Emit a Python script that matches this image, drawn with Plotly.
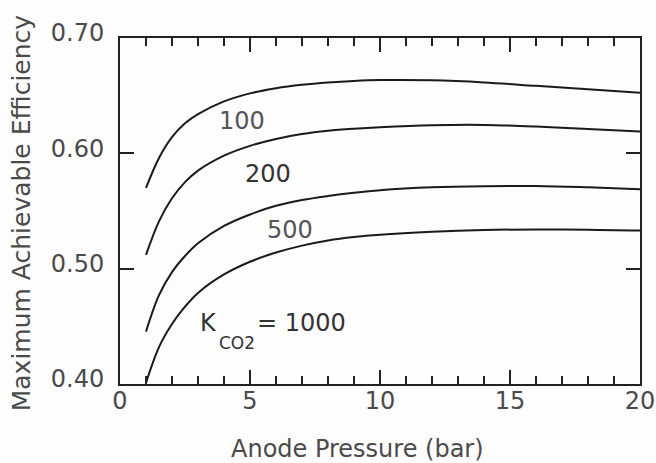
import plotly.graph_objects as go

pressure = [1, 1.5, 2, 2.5, 3, 4, 5, 6, 7, 8, 9, 10, 12, 14, 16, 18, 20]
eff_k100 = [0.570, 0.596, 0.614, 0.626, 0.634, 0.645, 0.652, 0.6565, 0.6595, 0.6615, 0.6628, 0.6635, 0.6633, 0.6615, 0.6585, 0.6555, 0.6525]
eff_k200 = [0.512, 0.541, 0.561, 0.575, 0.585, 0.598, 0.6065, 0.6125, 0.6167, 0.6195, 0.6213, 0.6226, 0.6243, 0.6246, 0.6232, 0.621, 0.619]
eff_k500 = [0.4454, 0.477, 0.497, 0.511, 0.522, 0.537, 0.547, 0.5545, 0.5595, 0.563, 0.5658, 0.568, 0.5705, 0.5715, 0.5717, 0.5705, 0.5688]
eff_k1000 = [0.401, 0.432, 0.452, 0.467, 0.479, 0.495, 0.506, 0.514, 0.520, 0.5245, 0.5275, 0.5295, 0.532, 0.5335, 0.534, 0.5338, 0.533]

x_ticks = [0, 5, 10, 15, 20]
y_ticks = [0.40, 0.50, 0.60, 0.70]

FONT = "DejaVu Sans"
TXT = "#4a4a4a"

fig = go.Figure()
for ys in [eff_k100, eff_k200, eff_k500, eff_k1000]:
    fig.add_trace(go.Scatter(x=pressure, y=ys, mode="lines",
                             line=dict(color="#1a1a1a", width=2, shape="spline", smoothing=1.0),
                             showlegend=False, hoverinfo="skip"))

ann = [
    dict(x=4.71, y=0.6283, text="100", font=dict(size=24, color="#555555", family=FONT)),
    dict(x=5.70, y=0.582, text="200", font=dict(size=24, color="#333333", family=FONT)),
    dict(x=6.53, y=0.5338, text="500", font=dict(size=24, color="#555555", family=FONT)),
]
for a in ann:
    fig.add_annotation(xref="x", yref="y", showarrow=False, xanchor="center", yanchor="middle", **a)

fig.add_annotation(xref="x", yref="y", x=3.0, y=0.4529, text="K", showarrow=False,
                   xanchor="left", yanchor="middle", font=dict(size=24, color="#333333", family=FONT))
fig.add_annotation(xref="x", yref="y", x=3.72, y=0.4356, text="CO2", showarrow=False,
                   xanchor="left", yanchor="middle", font=dict(size=17, color="#333333", family=FONT))
fig.add_annotation(xref="x", yref="y", x=5.2, y=0.4529, text="= 1000", showarrow=False,
                   xanchor="left", yanchor="middle", font=dict(size=24, color="#333333", family=FONT))

fig.add_annotation(xref="paper", yref="paper", x=0.456, y=-0.188, text="Anode Pressure (bar)",
                   showarrow=False, xanchor="center", yanchor="middle",
                   font=dict(size=24, color=TXT, family=FONT))
fig.add_annotation(xref="paper", yref="paper", x=-0.19, y=0.494, text="Maximum Achievable Efficiency",
                   showarrow=False, xanchor="center", yanchor="middle", textangle=-90,
                   font=dict(size=25, color=TXT, family=FONT))

fig.update_xaxes(range=[0, 20], tickvals=x_ticks, ticktext=[str(v) for v in x_ticks],
                 ticks="inside", ticklen=14, tickwidth=2, tickcolor="#222222",
                 minor=dict(dtick=1, ticks="inside", ticklen=8, tickwidth=2, tickcolor="#222222"),
                 showline=True, linecolor="#222222", linewidth=2, mirror="ticks",
                 showgrid=False, zeroline=False, automargin=False, ticklabelstandoff=-6,
                 tickfont=dict(size=24, color=TXT, family=FONT))
fig.update_yaxes(range=[0.40, 0.70], tickvals=y_ticks, ticktext=["%.2f" % v for v in y_ticks],
                 ticks="inside", ticklen=14, tickwidth=2, tickcolor="#222222",
                 showline=True, linecolor="#222222", linewidth=2, mirror="ticks",
                 showgrid=False, zeroline=False, automargin=False,
                 ticklabelshift=-5, ticklabelstandoff=9,
                 tickfont=dict(size=24, color=TXT, family=FONT))

fig.update_layout(width=656, height=463, margin=dict(l=120, r=16, t=38, b=79),
                  paper_bgcolor="#fdfdfd", plot_bgcolor="#fdfdfd", showlegend=False)

fig.write_html("out.html")
